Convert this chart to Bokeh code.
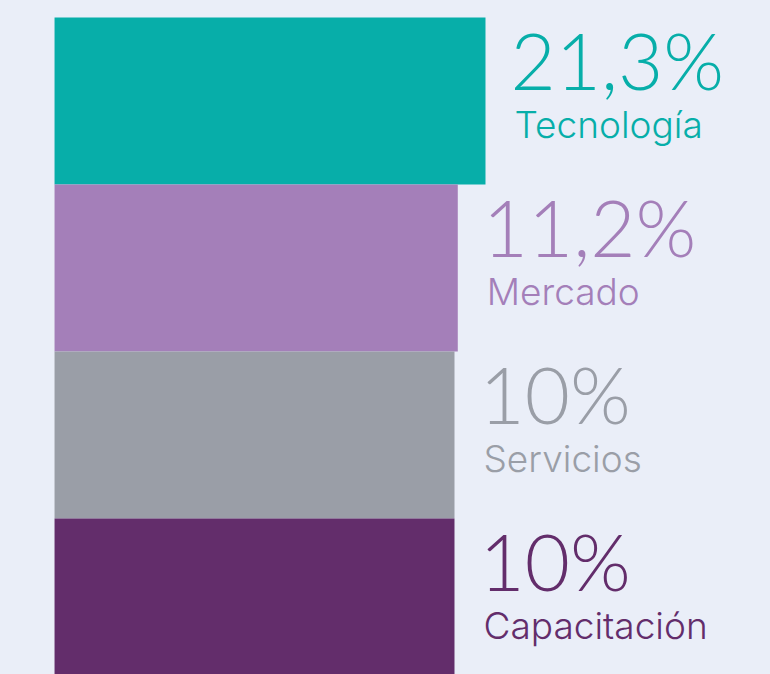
from bokeh.plotting import figure
from bokeh.models import ColumnDataSource, Range1d
from bokeh.core.properties import value
from bokeh.embed import file_html
from bokeh.resources import INLINE

categories = ["Tecnología", "Mercado", "Servicios", "Capacitación"]
values = [21.3, 11.2, 10.0, 10.0]
value_labels = ["21,3%", "11,2%", "10%", "10%"]
colors = ["#07aea9", "#a47fb9", "#9a9ea7", "#632d6b"]

BG = "#eaeef8"
BAR_BASE = -135.8

idx = list(range(len(categories)))
src = ColumnDataSource(dict(
    y=idx, right=values, cat=categories, lab=value_labels, color=colors,
    left=[BAR_BASE] * len(idx),
))

p = figure(width=770, height=674, output_backend="svg", toolbar_location=None,
           x_range=Range1d(-155.5, 125.2), y_range=Range1d(3.434, -0.602),
           min_border=0, min_border_left=0, min_border_right=0,
           min_border_top=0, min_border_bottom=0)
p.background_fill_color = BG
p.border_fill_color = BG
p.outline_line_color = None
p.xaxis.visible = False
p.yaxis.visible = False
p.xgrid.visible = False
p.ygrid.visible = False

p.hbar(y="y", left="left", right="right", height=1.0, color="color",
       line_color=None, source=src)

p.text(x="right", y="y", text="lab", text_color="color", source=src,
       x_offset=25, y_offset=-41, text_font=value("Lato Light"),
       text_font_size="78px", text_baseline="alphabetic", text_align="left")
p.text(x="right", y="y", text="cat", text_color="color", source=src,
       x_offset=29, y_offset=23, text_font=value("Inter Light, Inter"),
       text_font_size="37px", text_baseline="alphabetic", text_align="left")

html = file_html(p, INLINE)
html = html.replace("<body>", f'<body style="background:{BG};">')
open("out.html", "w").write(html)
